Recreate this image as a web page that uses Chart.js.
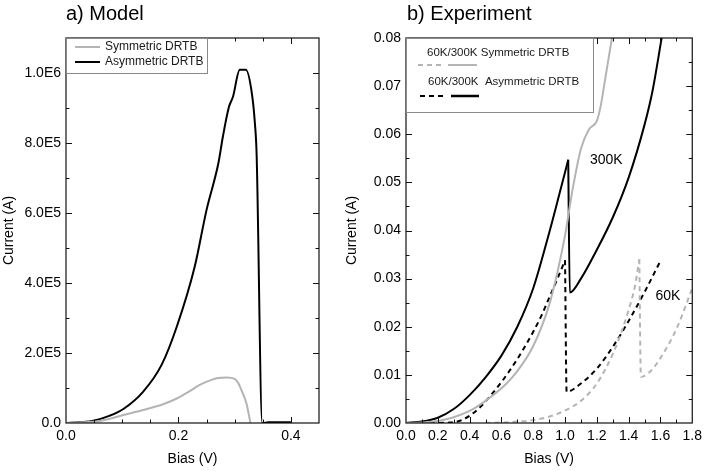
<!DOCTYPE html>
<html>
<head>
<meta charset="utf-8">
<script src="https://cdn.jsdelivr.net/npm/chart.js@4.4.1/dist/chart.umd.min.js"></script>
<style>
  body { margin: 0; background: #fff; width: 707px; height: 471px; overflow: hidden; position: relative; }
  #wrapA { position: absolute; left: 0; top: 0; width: 340px; height: 471px; }
  #wrapB { position: absolute; left: 340px; top: 0; width: 367px; height: 471px; }
</style>
</head>
<body>
<div id="wrapA"><canvas id="modelChart"></canvas></div>
<div id="wrapB"><canvas id="expChart"></canvas></div>
<script>
// ---- a) Model data ----
const modelSymX  = [0, 0.025, 0.049, 0.075, 0.102, 0.125, 0.149, 0.175, 0.197, 0.218, 0.238, 0.255, 0.268, 0.286, 0.300, 0.306, 0.312, 0.321, 0.328];
const modelSymY  = [0, 1500, 3800, 11000, 23000, 32000, 42000, 55000, 70000, 89000, 109000, 121000, 128000, 130000, 126000, 115000, 94000, 56000, 0];
const modelAsymX = [0, 0.025, 0.049, 0.078, 0.102, 0.137, 0.170, 0.197, 0.229, 0.250, 0.271, 0.279, 0.290, 0.297, 0.309, 0.320, 0.331, 0.336, 0.339, 0.349, 0.36, 0.40];
const modelAsymY = [0, 2500, 6600, 21000, 40000, 89000, 166000, 275000, 447000, 609000, 742000, 818000, 904000, 932000, 1009000, 1009000, 937000, 856000, 770000, 0, 2000, 2500];
const modelXTicks = [0, 0.2, 0.4];
const modelYTicks = [0, 200000, 400000, 600000, 800000, 1000000];

// ---- b) Experiment data ----
const sym300X  = [0, 0.1, 0.2, 0.3, 0.4, 0.5, 0.6, 0.7, 0.8, 0.9, 0.95, 1.0, 1.05, 1.1, 1.15, 1.2, 1.225, 1.25, 1.3];
const sym300Y  = [0, 0.0001, 0.0004, 0.0012, 0.0025, 0.0046, 0.0072, 0.0108, 0.0160, 0.0245, 0.0310, 0.0390, 0.0490, 0.0570, 0.0610, 0.0628, 0.0660, 0.0710, 0.0810];
const asym300X = [0, 0.1, 0.2, 0.3, 0.4, 0.5, 0.6, 0.7, 0.8, 0.9, 0.96, 1.02, 1.03, 1.1, 1.2, 1.3, 1.4, 1.5, 1.55, 1.61];
const asym300Y = [0, 0.0003, 0.0011, 0.0029, 0.0058, 0.0095, 0.0140, 0.0200, 0.0280, 0.0395, 0.0470, 0.0547, 0.0271, 0.0300, 0.0360, 0.0427, 0.0510, 0.0620, 0.0690, 0.0805];
const sym60X   = [0.5, 0.6, 0.7, 0.8, 0.9, 1.0, 1.1, 1.2, 1.3, 1.35, 1.4, 1.44, 1.467, 1.477, 1.50, 1.55, 1.6, 1.7, 1.8];
const sym60Y   = [0, 0.0001, 0.0003, 0.0006, 0.0013, 0.0026, 0.0046, 0.0082, 0.0143, 0.0185, 0.0235, 0.0285, 0.0340, 0.0096, 0.0098, 0.0112, 0.0135, 0.0195, 0.0280];
const asym60X  = [0.15, 0.275, 0.35, 0.45, 0.55, 0.65, 0.75, 0.85, 0.9, 0.95, 1.0, 1.01, 1.1, 1.2, 1.3, 1.4, 1.5, 1.6];
const asym60Y  = [0, 0.0001, 0.0006, 0.0028, 0.0064, 0.0108, 0.0160, 0.0222, 0.0260, 0.0298, 0.0338, 0.0065, 0.0082, 0.0113, 0.0158, 0.0212, 0.0272, 0.0337];
const expXTicks = [0, 0.2, 0.4, 0.6, 0.8, 1.0, 1.2, 1.4, 1.6, 1.8];
const expYTicks = [0, 0.01, 0.02, 0.03, 0.04, 0.05, 0.06, 0.07, 0.08];

const GRAY = '#b4b4b4';
const FONT = '"Liberation Sans", Arial, sans-serif';

function pts(xs, ys) { return xs.map((x, i) => ({ x: x, y: ys[i] })); }

function sci(v) {
  if (v === 0) return '0.0';
  const e = Math.floor(Math.log10(v) + 1e-9);
  return (v / Math.pow(10, e)).toFixed(1) + 'E' + e;
}

function series(data, color, dash, width) {
  return {
    data: data, showLine: true, pointRadius: 0,
    borderColor: color, borderWidth: width || 2, borderDash: dash || [],
    cubicInterpolationMode: 'monotone', fill: false
  };
}

// a curve with a sharp current drop is drawn as two pieces split at the peak,
// so the smoothing does not flatten the rising side into the peak
function sawtooth(xs, ys, color, dash) {
  const p = pts(xs, ys);
  let k = p.findIndex((d, i) => i < p.length - 1 && p[i + 1].y < d.y * 0.6);
  if (k < 0) return [series(p, color, dash)];
  return [series(p.slice(0, k + 1), color, dash), series(p.slice(k), color, dash)];
}

// frame, inward ticks, titles, legend, labels
function makeDeco(cfg) {
  return {
    id: 'deco',
    afterDraw(chart) {
      const ctx = chart.ctx, ca = chart.chartArea;
      const sx = chart.scales.x, sy = chart.scales.y;
      ctx.save();
      ctx.strokeStyle = '#111';
      ctx.lineWidth = 1.2;
      ctx.strokeRect(ca.left, ca.top, ca.right - ca.left, ca.bottom - ca.top);
      ctx.lineWidth = 1;
      function tickX(v, len) {
        const p = Math.round(sx.getPixelForValue(v)) + 0.5;
        ctx.beginPath();
        ctx.moveTo(p, ca.bottom); ctx.lineTo(p, ca.bottom - len);
        ctx.moveTo(p, ca.top); ctx.lineTo(p, ca.top + len);
        ctx.stroke();
      }
      function tickY(v, len) {
        const p = Math.round(sy.getPixelForValue(v)) + 0.5;
        ctx.beginPath();
        ctx.moveTo(ca.left, p); ctx.lineTo(ca.left + len, p);
        ctx.moveTo(ca.right, p); ctx.lineTo(ca.right - len, p);
        ctx.stroke();
      }
      for (let v = cfg.minorX; v < sx.max - 1e-9; v += cfg.minorX) tickX(v, 3.5);
      for (let v = cfg.minorY; v < sy.max - 1e-9; v += cfg.minorY) tickY(v, 3.5);
      cfg.xTicks.forEach(v => { if (v > sx.min && v < sx.max) tickX(v, 6); });
      cfg.yTicks.forEach(v => { if (v > sy.min && v < sy.max) tickY(v, 6); });

      ctx.fillStyle = '#000';
      ctx.font = '20px ' + FONT;
      ctx.textAlign = 'left';
      ctx.textBaseline = 'alphabetic';
      ctx.fillText(cfg.title, ca.left + cfg.titleDx, 20);

      ctx.font = '14px ' + FONT;
      ctx.textAlign = 'center';
      ctx.textBaseline = 'middle';
      ctx.fillText('Bias (V)', (ca.left + ca.right) / 2, 459);
      ctx.save();
      ctx.translate(cfg.yTitleX, (ca.top + ca.bottom) / 2);
      ctx.rotate(-Math.PI / 2);
      ctx.fillText('Current (A)', 0, 0);
      ctx.restore();

      (cfg.notes || []).forEach(n => {
        ctx.fillText(n.text, sx.getPixelForValue(n.x), sy.getPixelForValue(n.y));
      });

      // legend
      const lg = cfg.legend;
      ctx.fillStyle = '#fff';
      ctx.fillRect(ca.left, ca.top, lg.w, lg.h);
      ctx.strokeStyle = '#8a8a8a';
      ctx.strokeRect(ca.left + 0.5, ca.top + 0.5, lg.w, lg.h);
      ctx.font = lg.font + 'px ' + FONT;
      ctx.textAlign = 'left';
      ctx.fillStyle = '#1a1a1a';
      lg.rows.forEach(r => {
        if (r.text) ctx.fillText(r.text, ca.left + r.tx, ca.top + r.ty);
        r.segs.forEach(s => {
          ctx.beginPath();
          ctx.strokeStyle = s.color;
          ctx.lineWidth = s.width;
          ctx.setLineDash(s.dash);
          ctx.moveTo(ca.left + s.x1, ca.top + s.y);
          ctx.lineTo(ca.left + s.x2, ca.top + s.y);
          ctx.stroke();
        });
      });
      ctx.setLineDash([]);
      ctx.restore();
    }
  };
}

function axes(xMin, xMax, yMin, yMax, xTicks, yTicks, xFmt, yFmt) {
  const tickFont = { family: FONT, size: 14 };
  return {
    x: {
      type: 'linear', min: xMin, max: xMax,
      afterFit: s => { s.height = 48; },
      afterBuildTicks: s => { s.ticks = xTicks.map(v => ({ value: v })); },
      grid: { display: false, drawTicks: false },
      border: { display: false },
      ticks: { color: '#000', font: tickFont, padding: 5, maxRotation: 0, autoSkip: false, callback: xFmt }
    },
    y: {
      type: 'linear', min: yMin, max: yMax,
      afterFit: s => { s.width = 66; },
      afterBuildTicks: s => { s.ticks = yTicks.map(v => ({ value: v })); },
      grid: { display: false, drawTicks: false },
      border: { display: false },
      ticks: { color: '#000', font: tickFont, padding: 5, autoSkip: false, callback: yFmt }
    }
  };
}

const baseOpts = {
  responsive: true, maintainAspectRatio: false, animation: false, devicePixelRatio: 1,
  plugins: { legend: { display: false }, tooltip: { enabled: false } }
};

new Chart(document.getElementById('modelChart'), {
  type: 'scatter',
  data: {
    datasets: [
      series(pts(modelSymX, modelSymY), GRAY, [], 2),
      series(pts(modelAsymX, modelAsymY), '#000', [], 2)
    ]
  },
  options: Object.assign({}, baseOpts, {
    layout: { padding: { top: 38, right: 21, left: 0, bottom: 0 } },
    scales: axes(0, 0.45, 0, 1100000, modelXTicks, modelYTicks,
      v => v.toFixed(1), v => sci(v))
  }),
  plugins: [makeDeco({
    title: 'a) Model', titleDx: 0, yTitleX: 9,
    xTicks: modelXTicks, yTicks: modelYTicks, minorX: 0.05, minorY: 100000,
    legend: {
      w: 141, h: 35, font: 12,
      rows: [
        { text: 'Symmetric DRTB', tx: 39, ty: 9, segs: [{ x1: 9, x2: 34, y: 9, color: GRAY, width: 2, dash: [] }] },
        { text: 'Asymmetric DRTB', tx: 39, ty: 24, segs: [{ x1: 9, x2: 34, y: 24, color: '#000', width: 2, dash: [] }] }
      ]
    }
  })]
});

new Chart(document.getElementById('expChart'), {
  type: 'scatter',
  data: {
    datasets: [].concat(
      sawtooth(sym300X, sym300Y, GRAY, []),
      sawtooth(asym300X, asym300Y, '#000', []),
      sawtooth(sym60X, sym60Y, GRAY, [5, 4]),
      sawtooth(asym60X, asym60Y, '#000', [5, 4])
    )
  },
  options: Object.assign({}, baseOpts, {
    layout: { padding: { top: 38, right: 13, left: 0, bottom: 0 } },
    scales: axes(0, 1.8, 0, 0.08, expXTicks, expYTicks,
      v => v.toFixed(1), v => v.toFixed(2))
  }),
  plugins: [makeDeco({
    title: 'b) Experiment', titleDx: 1, yTitleX: 12,
    xTicks: expXTicks, yTicks: expYTicks, minorX: 0.1, minorY: 0.005,
    notes: [{ text: '300K', x: 1.259, y: 0.0547 }, { text: '60K', x: 1.647, y: 0.0264 }],
    legend: {
      w: 187, h: 74, font: 11.5,
      rows: [
        { text: '60K/300K Symmetric DRTB', tx: 21, ty: 15, segs: [
          { x1: 12, x2: 36, y: 27, color: GRAY, width: 2, dash: [5, 4] },
          { x1: 42, x2: 71, y: 27, color: GRAY, width: 2, dash: [] }] },
        { text: '60K/300K  Asymmetric DRTB', tx: 22, ty: 44, segs: [
          { x1: 14, x2: 37, y: 58, color: '#000', width: 2.2, dash: [5, 4] },
          { x1: 45, x2: 73, y: 58, color: '#000', width: 2.5, dash: [] }] }
      ]
    }
  })]
});
</script>
</body>
</html>
